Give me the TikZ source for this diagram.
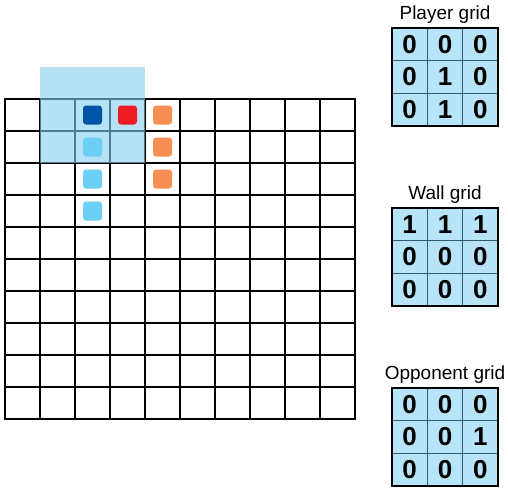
\documentclass[tikz,border=0pt]{standalone}
\usepackage{fontspec}
\setmainfont{Liberation Sans}

\definecolor{cellblue}{RGB}{183,228,248}
\definecolor{hiblue}{RGB}{135,206,240}
\definecolor{gridteal}{RGB}{48,92,108}
\definecolor{headblue}{RGB}{0,84,166}
\definecolor{headred}{RGB}{237,28,36}
\definecolor{tailorange}{RGB}{247,143,84}
\definecolor{tailblue}{RGB}{108,207,246}

\tikzset{
  token/.style={rounded corners=3, minimum size=19, inner sep=0pt},
  digit/.style={font=\bfseries\fontsize{26}{26}\selectfont, inner sep=0pt},
  gridtitle/.style={font=\fontsize{19}{19}\selectfont, anchor=base}
}

% small 3x3 grid: name, top y, title, values
\newcommand{\minigrid}[4]{%
  \fill[cellblue] (392,#2) rectangle (498,#2+98);
  \foreach \k in {1,2} {
    \draw[gridteal, line width=1.6] (392+\k*35.33,#2) -- (392+\k*35.33,#2+98);
    \draw[gridteal, line width=1.6] (392,#2+\k*32.67) -- (498,#2+\k*32.67);
  }
  \draw[line width=2.2] (392,#2) rectangle (498,#2+98);
  \node[gridtitle] (#1-title) at (445,#2-9) {#3};
  \foreach \row [count=\r from 0] in {#4} {
    \foreach \v [count=\c from 0] in \row {
      \node[digit] (#1-\r-\c) at (392+17.67+\c*35.33,#2+16.33+\r*32.67) {\v};
    }
  }
}

\begin{document}
\begin{tikzpicture}[x=1pt, y=-1pt, line cap=rect]
  \useasboundingbox (0,0) rectangle (508,488);

  % board 10 x 10
  \def\cw{35}
  \def\ch{32}
  \foreach \i in {0,...,10} {
    \draw[line width=2.3] (5+\i*\cw,99) -- (5+\i*\cw,419);
    \draw[line width=2.3] (5,99+\i*\ch) -- (355,99+\i*\ch);
  }

  % field of view
  \fill[hiblue, opacity=0.6] (40,67) rectangle (145,163);

  % snakes
  \node[token, fill=headblue]   (me)    at (5+2.5*\cw,99+0.5*\ch) {};
  \node[token, fill=tailblue]   (me1)   at (5+2.5*\cw,99+1.5*\ch) {};
  \node[token, fill=tailblue]   (me2)   at (5+2.5*\cw,99+2.5*\ch) {};
  \node[token, fill=tailblue]   (me3)   at (5+2.5*\cw,99+3.5*\ch) {};
  \node[token, fill=headred]    (foe)   at (5+3.5*\cw,99+0.5*\ch) {};
  \node[token, fill=tailorange] (foe1)  at (5+4.5*\cw,99+0.5*\ch) {};
  \node[token, fill=tailorange] (foe2)  at (5+4.5*\cw,99+1.5*\ch) {};
  \node[token, fill=tailorange] (foe3)  at (5+4.5*\cw,99+2.5*\ch) {};

  % observation grids
  \minigrid{player}{28}{Player grid}{{0,0,0},{0,1,0},{0,1,0}}
  \minigrid{wall}{208}{Wall grid}{{1,1,1},{0,0,0},{0,0,0}}
  \minigrid{opp}{388}{Opponent grid}{{0,0,0},{0,0,1},{0,0,0}}
\end{tikzpicture}
\end{document}
